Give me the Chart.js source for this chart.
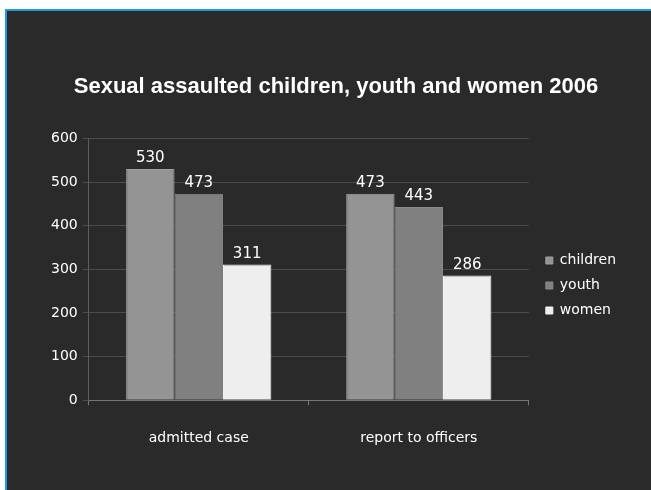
<!DOCTYPE html>
<html>
<head>
<meta charset="utf-8">
<script src="https://cdn.jsdelivr.net/npm/chart.js@4.4.1/dist/chart.umd.min.js"></script>
<style>
    html, body { margin: 0; padding: 0; background: #ffffff; }
    #frame {
        position: absolute;
        left: 5px;
        top: 9px;
        width: 644px;
        height: 490px;
        background: #2a2a2a;
        border-left: 2px solid #1e9be0;
        border-top: 2px solid #1e9be0;
    }
    #chart { display: block; }
</style>
</head>
<body>
<div id="frame">
    <canvas id="chart" width="644" height="490"></canvas>
</div>
<script>
const categories = ['admitted case', 'report to officers'];
const seriesNames = ['children', 'youth', 'women'];
const children = [530, 473];
const youth = [473, 443];
const women = [311, 286];
const yTicks = [0, 100, 200, 300, 400, 500, 600];

const barColors = ['#949494', '#808080', '#eeeeee'];
const borderColors = ['#a0a0a0', '#8c8c8c', '#f6f6f6'];
const uiFont = '"DejaVu Sans", Tahoma, sans-serif';

const valueLabels = {
    id: 'valueLabels',
    afterDatasetsDraw(chart) {
        const ctx = chart.ctx;
        ctx.save();
        ctx.fillStyle = '#ffffff';
        ctx.font = '15px ' + uiFont;
        ctx.textAlign = 'center';
        ctx.textBaseline = 'bottom';
        chart.data.datasets.forEach((ds, i) => {
            chart.getDatasetMeta(i).data.forEach((bar, j) => {
                ctx.fillText(ds.data[j], bar.x, bar.y - 3);
            });
        });
        ctx.restore();
    }
};

const data = {
    labels: categories,
    datasets: [children, youth, women].map((values, i) => ({
        label: seriesNames[i],
        data: values,
        backgroundColor: barColors[i],
        borderColor: borderColors[i],
        borderWidth: 1,
        categoryPercentage: 0.66,
        barPercentage: 1
    }))
};

const options = {
    responsive: false,
    animation: false,
    layout: {
        padding: { top: 63, left: 39, right: 25, bottom: 29 }
    },
    plugins: {
        title: {
            display: true,
            text: 'Sexual assaulted children, youth and women 2006',
            color: '#ffffff',
            font: { family: '"Liberation Sans", Arial, sans-serif', size: 22, weight: 'bold' },
            padding: { top: 0, bottom: 38 }
        },
        legend: {
            position: 'right',
            title: {
                // empty title only pushes the items down a little
                display: true,
                text: ' ',
                font: { size: 10 },
                padding: { top: 13, bottom: 0 }
            },
            labels: {
                color: '#ffffff',
                font: { family: uiFont, size: 14 },
                boxWidth: 7,
                boxHeight: 7,
                padding: 11
            }
        },
        tooltip: { enabled: false }
    },
    scales: {
        x: {
            grid: {
                offset: true,
                drawOnChartArea: false,
                color: '#777777',
                tickLength: 5
            },
            border: { color: '#777777' },
            ticks: {
                color: '#ffffff',
                font: { family: uiFont, size: 14 },
                padding: 25
            }
        },
        y: {
            min: 0,
            max: 600,
            afterBuildTicks(axis) {
                axis.ticks = yTicks.map(v => ({ value: v }));
            },
            grid: {
                color: '#4c4c4c',
                tickLength: 6
            },
            border: { color: '#5c5c5c' },
            ticks: {
                color: '#ffffff',
                font: { family: uiFont, size: 14 },
                padding: 5
            }
        },
        gap: {
            // blank right-hand axis, keeps a small gap before the legend
            type: 'linear',
            position: 'right',
            grid: { display: false },
            border: { display: false },
            ticks: { display: false },
            afterFit(axis) {
                axis.width = 6;
            }
        }
    }
};

new Chart(document.getElementById('chart'), {
    type: 'bar',
    data: data,
    options: options,
    plugins: [valueLabels]
});
</script>
</body>
</html>
